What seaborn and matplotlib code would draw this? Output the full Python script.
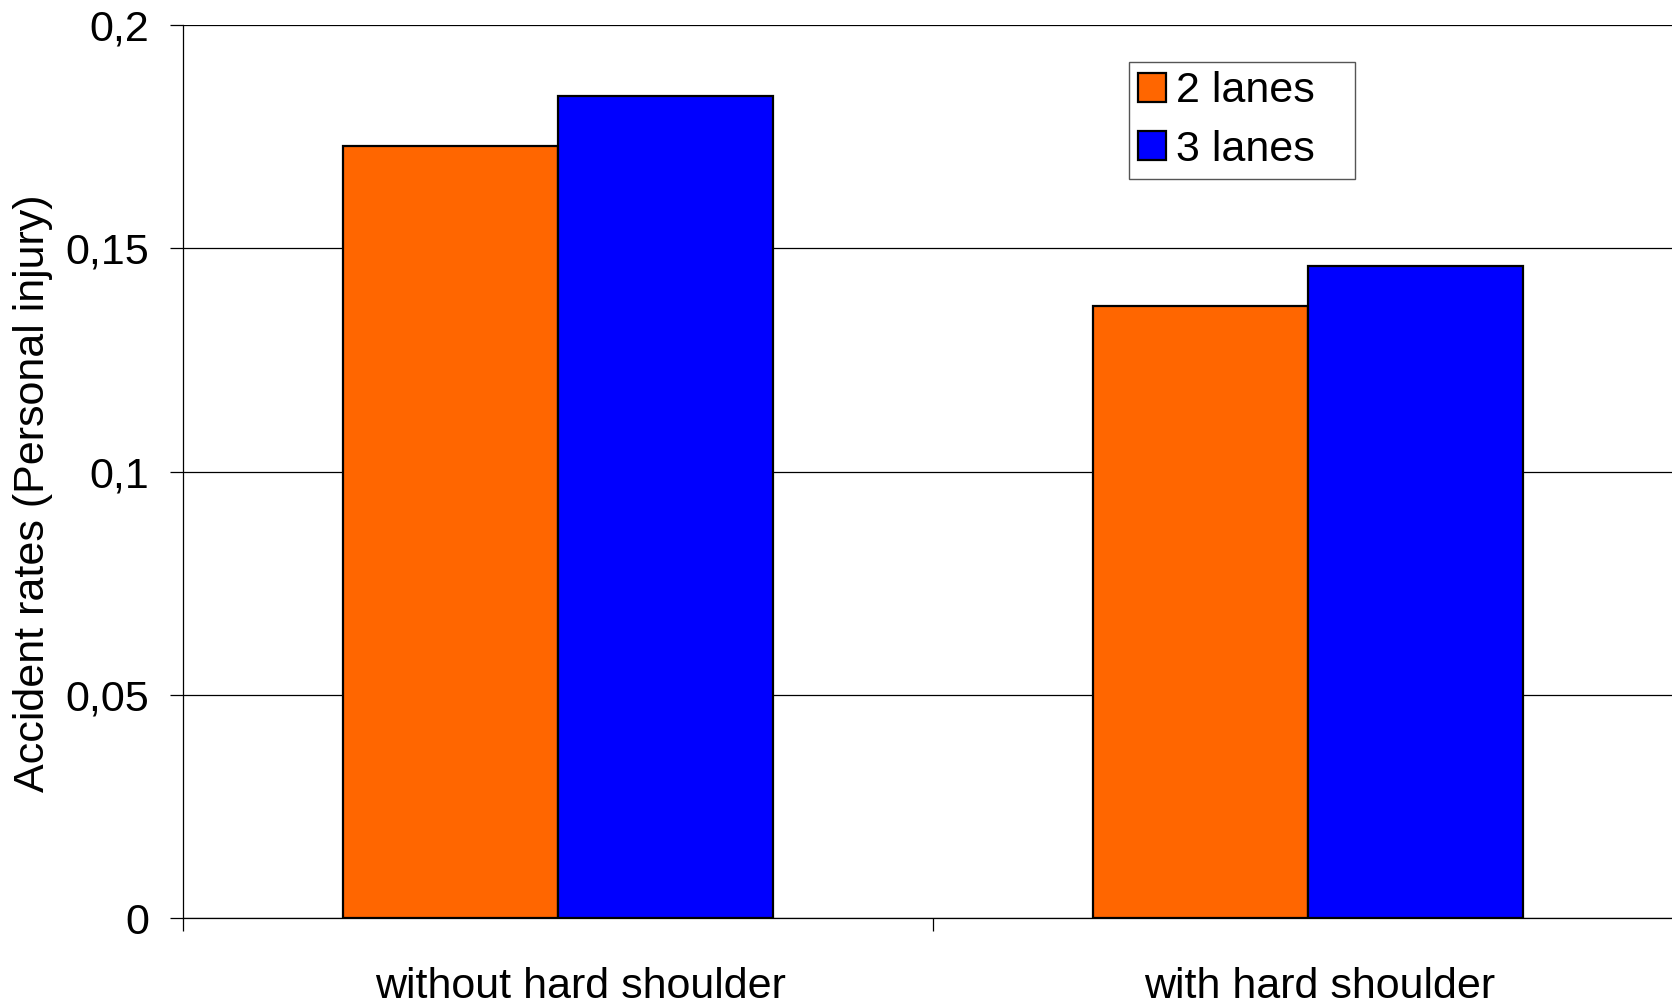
import matplotlib
matplotlib.use("Agg")
import matplotlib.pyplot as plt
from matplotlib.transforms import ScaledTranslation
import seaborn as sns
import pandas as pd

# Accident rates per road type and number of lanes
categories = ["without hard shoulder", "with hard shoulder"]
lanes = ["2 lanes", "3 lanes"]
rates_2_lanes = [0.173, 0.137]
rates_3_lanes = [0.184, 0.146]
y_ticks = [0, 0.05, 0.1, 0.15, 0.2]
y_tick_labels = ["0", "0,05", "0,1", "0,15", "0,2"]
colors = ["#FF6600", "#0000FF"]

df = pd.DataFrame({
    "category": categories * 2,
    "lanes": [lanes[0]] * 2 + [lanes[1]] * 2,
    "rate": rates_2_lanes + rates_3_lanes,
})

sns.set_style("white")
plt.rcParams["font.family"] = ["Liberation Sans", "DejaVu Sans"]
plt.rcParams.update({
    "text.color": "black",
    "axes.labelcolor": "black",
    "xtick.color": "black",
    "ytick.color": "black",
})

fig = plt.figure(figsize=(16.72, 10.02), dpi=100)
ax = fig.add_axes([0.1095, 0.0838, 0.897, 0.8912])

sns.barplot(data=df, x="category", y="rate", hue="lanes", order=categories,
            hue_order=lanes, palette=colors, saturation=1, width=0.573,
            edgecolor="black", linewidth=1.6, ax=ax, errorbar=None, zorder=3)

ax.set_xlim(-0.5, 1.5)
ax.set_ylim(0, 0.2)

# y axis
ax.set_yticks(y_ticks, labels=y_tick_labels)
ax.tick_params(axis="y", which="major", direction="out", length=9.4, width=0.9,
               color="black", labelcolor="black", pad=15, labelsize=31, left=True)
ax.yaxis.grid(True, color="black", linewidth=0.9)
ax.set_axisbelow(True)
ax.set_ylabel("Accident rates (Personal injury)", fontsize=31, color="black")
ax.yaxis.set_label_coords(-0.087, 0.476)

# x axis: tick marks at category boundaries, labels at category centres
ax.set_xticks([-0.5, 0.5, 1.5], labels=["", "", ""])
ax.set_xticks([0, 1], labels=categories, minor=True)
ax.tick_params(axis="x", which="major", direction="out", length=9.4, width=0.9,
               color="black", bottom=True)
ax.tick_params(axis="x", which="minor", length=0, pad=35, labelsize=31,
               labelcolor="black")
ax.set_xlabel("")

for side in ["top", "right"]:
    ax.spines[side].set_visible(False)
for side in ["left", "bottom"]:
    ax.spines[side].set_color("black")
    ax.spines[side].set_linewidth(0.9)

handles, labels = ax.get_legend_handles_labels()
leg = ax.legend(handles, labels, loc="upper left", mode="expand",
                bbox_to_anchor=(0.6307, 0.5, 0.1507, 0.4586), borderaxespad=0,
                fontsize=31, frameon=True, fancybox=False, framealpha=1,
                edgecolor="#555555", handlelength=0.65, handleheight=0.65,
                handletextpad=0.22, borderpad=0.22, labelspacing=0.42)
leg.get_frame().set_linewidth(1.0)

# category labels sit slightly right of the group centres
for lbl, dx in zip(ax.get_xticklabels(minor=True), [22, 12]):
    lbl.set_transform(lbl.get_transform()
                      + ScaledTranslation(dx / 100, 0, fig.dpi_scale_trans))

fig.savefig("out.png", dpi=100)
